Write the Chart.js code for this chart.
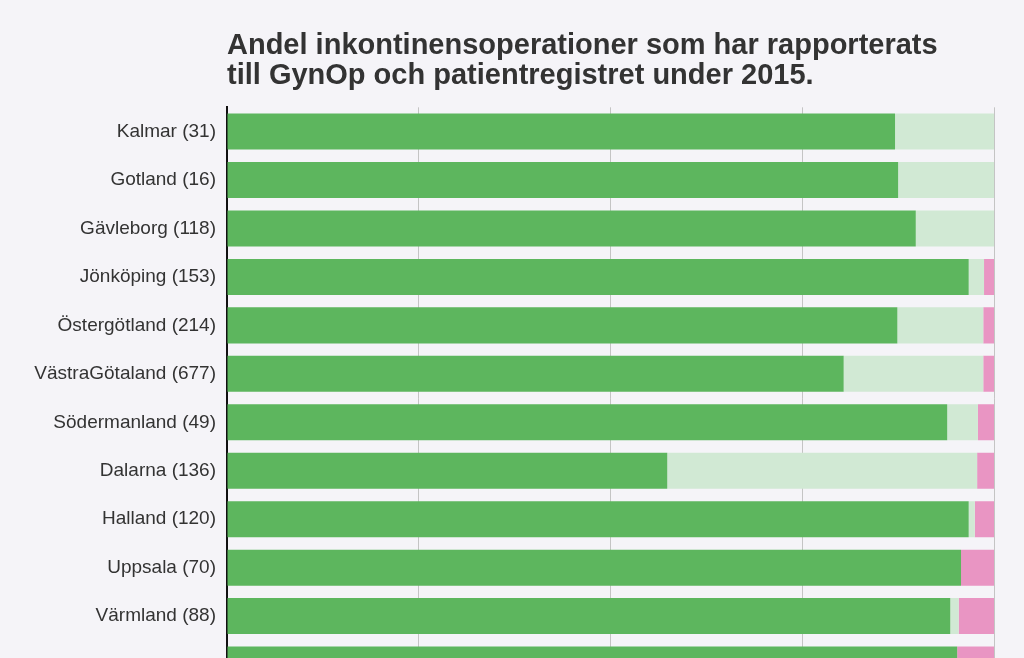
<!DOCTYPE html>
<html>
<head>
<meta charset="utf-8">
<script src="https://cdn.jsdelivr.net/npm/chart.js@4/dist/chart.umd.min.js"></script>
<style>
  html, body { margin: 0; padding: 0; background: #f5f4f8; overflow: hidden; }
  #wrap { width: 1024px; height: 724px; }
</style>
</head>
<body>
<div id="wrap"><canvas id="chart" width="1024" height="724"></canvas></div>
<script>
// Regions (number of operations), sorted by share missing in GynOp
const regions = [
  'Kalmar (31)', 'Gotland (16)', 'Gävleborg (118)', 'Jönköping (153)',
  'Östergötland (214)', 'VästraGötaland (677)', 'Södermanland (49)',
  'Dalarna (136)', 'Halland (120)', 'Uppsala (70)', 'Värmland (88)', ''
];

// Shares in percent
const bothRegisters = [87.1, 87.5, 89.8, 96.7, 87.4, 80.4, 93.9, 57.4, 96.7, 95.7, 94.3, 95.2];
const onlyGynOp     = [12.9, 12.5, 10.2, 2.0, 11.2, 18.2, 4.0, 40.4, 0.8, 0.0, 1.1, 0.0];
const onlyPatReg    = [0.0, 0.0, 0.0, 1.3, 1.4, 1.4, 2.1, 2.2, 2.5, 4.3, 4.6, 4.8];

const xTicks = [0, 25, 50, 75, 100];

const font = "'Liberation Sans', Arial, sans-serif";
Chart.defaults.font.family = font;
Chart.defaults.color = '#333333';

const ctx = document.getElementById('chart').getContext('2d');
new Chart(ctx, {
  type: 'bar',
  data: {
    labels: regions,
    datasets: [
      {
        label: 'GynOp och patientregistret',
        data: bothRegisters,
        backgroundColor: '#5db65e',
        borderWidth: 0
      },
      {
        label: 'Endast GynOp',
        data: onlyGynOp,
        backgroundColor: '#d1e9d4',
        borderWidth: 0
      },
      {
        label: 'Endast patientregistret',
        data: onlyPatReg,
        backgroundColor: '#e995c3',
        borderWidth: 0
      }
    ]
  },
  options: {
    indexAxis: 'y',
    responsive: false,
    animation: false,
    layout: { padding: { left: 0, right: 30, top: 0, bottom: 0 } },
    datasets: {
      bar: { barPercentage: 0.743, categoryPercentage: 1.0 }
    },
    plugins: {
      legend: { display: false },
      tooltip: { enabled: false },
      title: {
        display: true,
        text: ['Andel inkontinensoperationer som har rapporterats',
               'till GynOp och patientregistret under 2015.'],
        align: 'start',
        fullSize: false,
        color: '#333333',
        font: { family: font, size: 29, weight: 'bold', lineHeight: 1.04 },
        padding: { top: 31, bottom: 16 }
      }
    },
    scales: {
      x: {
        stacked: true,
        min: 0,
        max: 100,
        afterBuildTicks: (s) => { s.ticks = xTicks.map(v => ({ value: v })); },
        grid: { color: '#c4c4c4', lineWidth: 1, drawTicks: false },
        border: { display: false },
        ticks: { display: true, padding: 8, font: { size: 16 }, callback: v => v + '%' }
      },
      y: {
        stacked: true,
        afterFit: (s) => { s.width = 227; },
        grid: { display: false, drawTicks: false },
        border: { display: true, color: '#111111', width: 2 },
        ticks: { padding: 11, color: '#333333', font: { family: font, size: 19 } }
      }
    }
  }
});
</script>
</body>
</html>
